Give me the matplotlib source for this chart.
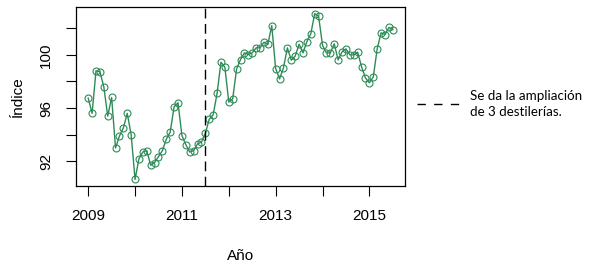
import matplotlib
matplotlib.use("Agg")
import matplotlib.pyplot as plt
from matplotlib.lines import Line2D
import numpy as np

start_year = 2009
values = [
    96.75, 95.6, 98.8, 98.74, 97.6, 95.4, 96.8, 93.0, 93.9, 94.5, 95.6, 94.0,
    90.64, 92.2, 92.7, 92.8, 91.7, 91.9, 92.35, 92.8, 93.66, 94.2, 96.1, 96.4,
    93.93, 93.25, 92.7, 92.8, 93.3, 93.45, 94.1, 95.17, 95.5, 97.1, 99.45, 99.07,
    96.45, 96.7, 98.94, 99.65, 100.15, 100.02, 100.15, 100.53, 100.53, 100.95, 100.78, 102.2,
    98.97, 98.19, 99.02, 100.53, 99.6, 99.9, 100.8, 100.15, 101.0, 101.58, 103.1, 102.9,
    100.72, 100.15, 100.15, 100.83, 99.62, 100.23, 100.45, 100.0, 100.0, 100.2, 99.1, 98.26,
    97.9, 98.34, 100.45, 101.66, 101.53, 102.06, 101.9,
]
event_time = 2011.5
x_ticks = [2009, 2010, 2011, 2012, 2013, 2014, 2015]
x_labels = ["2009", "", "2011", "", "2013", "", "2015"]
y_ticks = [92, 94, 96, 98, 100, 102]
y_labels = ["92", "", "96", "", "100", ""]
legend_label = "Se da la ampliación\nde 3 destilerías."

times = start_year + np.arange(len(values)) / 12.0

plt.rcParams['font.family'] = ['Liberation Sans', 'DejaVu Sans']
fig = plt.figure(figsize=(5.92, 2.64), dpi=100)
ax = fig.add_axes([76/592, 1 - 186/264, (405-76)/592, (186-7)/264])

color = "#2E8B57"
ax.plot(times, values, color=color, lw=1.0)
ax.plot(times, values, linestyle='none', marker='o', markersize=5.0,
        markerfacecolor='none', markeredgecolor=color, markeredgewidth=0.8)
ax.axvline(event_time, color='black', lw=1.0, dashes=(7, 4))

tr = times.max() - times.min()
ax.set_xlim(times.min() - 0.04*tr, times.max() + 0.04*tr)
vr = max(values) - min(values)
ax.set_ylim(min(values) - 0.04*vr, max(values) + 0.04*vr)

ax.set_xticks(x_ticks)
ax.set_xticklabels(x_labels, fontsize=11)
ax.set_yticks(y_ticks)
ax.set_yticklabels(y_labels, fontsize=11, rotation=90, va='center')
ax.tick_params(direction='out', length=7.2, width=0.8)
ax.tick_params(axis='x', pad=9)
ax.tick_params(axis='y', pad=9.5)
for s in ax.spines.values():
    s.set_linewidth(0.9)

ax.set_xlabel("Año", fontsize=11, labelpad=19)
ax.set_ylabel("Índice", fontsize=11, labelpad=10)

handle = Line2D([], [], color='black', lw=1.0, dashes=(6, 6))
fig.legend([handle], [legend_label], loc='center left',
           bbox_to_anchor=(417/592, 1 - 104/264), frameon=False,
           handlelength=3.2, handletextpad=0.75, labelspacing=0.2,
           borderpad=0.0, borderaxespad=0.0,
           prop={'family': ['Lato', 'DejaVu Sans'], 'size': 9.6})
for t in fig.legends[0].get_texts():
    t.set_linespacing(1.3)

fig.savefig("out.png", dpi=100)
